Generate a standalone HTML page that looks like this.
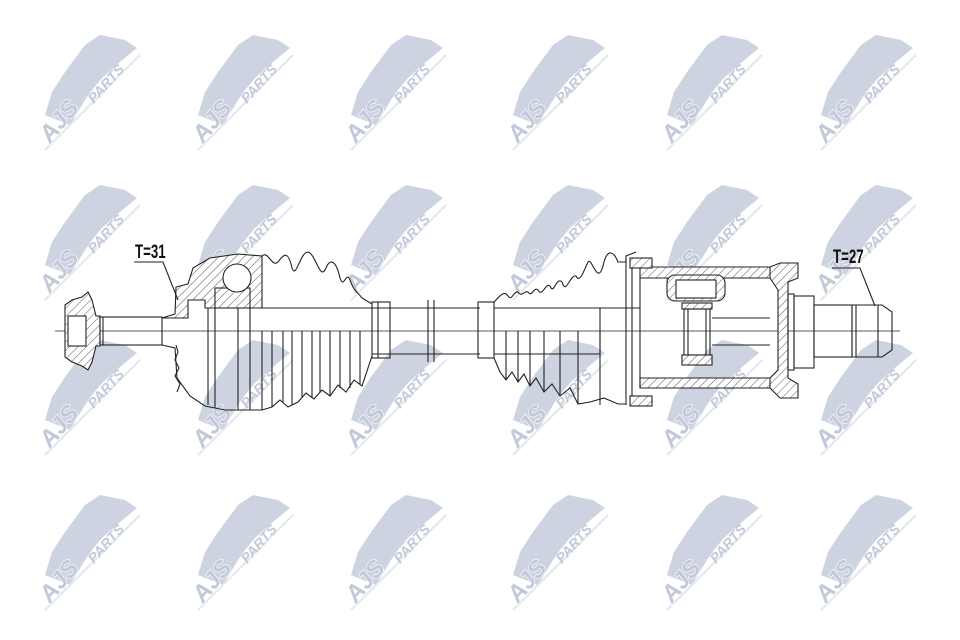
<!DOCTYPE html>
<html><head><meta charset="utf-8"><style>
html,body{margin:0;padding:0;background:#fff;}
svg{display:block}
</style></head><body>
<svg width="960" height="640" viewBox="0 0 960 640" xmlns="http://www.w3.org/2000/svg">
<defs>
<pattern id="h" width="6" height="6" patternUnits="userSpaceOnUse" patternTransform="rotate(45)">
<rect width="6" height="6" fill="#fff"/><line x1="0" y1="0" x2="0" y2="6" stroke="#333" stroke-width="0.8"/>
</pattern>
<g id="wm">
<path d="M-45,25 L-38,2 L-25,-18 L-5,-45 L10,-55 L35,-50 L47,-42 L30,-28 L12,-12 L2,0 L-5,10 L-20,35 Z" fill="#cdd3e0"/>
<line x1="-45" y1="60" x2="50" y2="-35" stroke="#e3e7ee" stroke-width="2"/>
<text x="0" y="0" transform="translate(-40,54) rotate(-50)" font-family="Liberation Sans, sans-serif" font-weight="bold" font-style="italic" font-size="24" fill="#c2c9d9" stroke="#fff" stroke-width="1.2" paint-order="stroke">AJS</text>
<text x="0" y="0" transform="translate(4,14) rotate(-48)" font-family="Liberation Sans, sans-serif" font-weight="bold" font-style="italic" font-size="14" fill="#c2c9d9">PARTS</text>
</g>
</defs>
<rect width="960" height="640" fill="#fff"/>
<g>
<use href="#wm" x="90" y="90"/><use href="#wm" x="243" y="90"/><use href="#wm" x="396" y="90"/><use href="#wm" x="558" y="90"/><use href="#wm" x="712" y="90"/><use href="#wm" x="866" y="90"/>
<use href="#wm" x="90" y="240"/><use href="#wm" x="243" y="240"/><use href="#wm" x="396" y="240"/><use href="#wm" x="558" y="240"/><use href="#wm" x="712" y="240"/><use href="#wm" x="866" y="240"/>
<use href="#wm" x="90" y="395"/><use href="#wm" x="243" y="395"/><use href="#wm" x="396" y="395"/><use href="#wm" x="558" y="395"/><use href="#wm" x="712" y="395"/><use href="#wm" x="866" y="395"/>
<use href="#wm" x="90" y="550"/><use href="#wm" x="243" y="550"/><use href="#wm" x="396" y="550"/><use href="#wm" x="558" y="550"/><use href="#wm" x="712" y="550"/><use href="#wm" x="866" y="550"/>
</g>

<g fill="none" stroke="#222" stroke-width="1.1">
<line x1="55" y1="331" x2="900" y2="331" stroke-width="0.8"/>
<path d="M65,305 L72,300 L82,297 L88,292 L92,300 L96,316 L100,316 L100,346 L96,346 L92,362 L88,370 L82,366 L72,362 L65,357 Z" fill="url(#h)"/>
<rect x="68" y="316" width="18" height="30" fill="#fff"/>
<rect x="100" y="317" width="62" height="28"/>
<line x1="103" y1="317" x2="103" y2="345"/>
<path d="M162,318 L175,314 L176,287 L188,284 L193,268 L210,258 L238,254 L262,256 L262,308 L205,308 L205,300 L188,300 L188,318 Z" fill="url(#h)"/>
<rect x="215" y="288" width="35" height="20" fill="url(#h)"/>
<circle cx="237" cy="278" r="14" fill="#fff"/>
<path d="M162,345 L175,348 L177,378 L190,396 L205,406 L225,410 L262,410"/>
<path d="M176,345 L178,352 L175,360 L179,368 L175,376 L180,384 L177,392" />
<line x1="208" y1="308" x2="208" y2="405"/><line x1="215" y1="308" x2="215" y2="408"/>
<line x1="250" y1="308" x2="250" y2="410"/><line x1="238" y1="308" x2="238" y2="410"/>
<path d="M262,256 C268,250 272,268 278,262 C284,254 288,250 292,268 C296,280 300,252 308,252 C316,254 320,282 326,268 C330,258 336,260 340,278 C344,290 346,270 350,280 C354,292 358,292 362,298 L372,304"/>
<path d="M262,410 L272,407 L280,400 L288,407 L298,402 L306,393 L314,399 L322,390 L330,396 L338,385 L346,392 L354,380 L362,386 L372,356"/>
<line x1="262" y1="331" x2="262" y2="410"/><line x1="272" y1="331" x2="272" y2="407"/><line x1="283" y1="331" x2="283" y2="402"/>
<line x1="292" y1="331" x2="292" y2="405"/><line x1="302" y1="331" x2="302" y2="398"/><line x1="312" y1="331" x2="312" y2="398"/>
<line x1="320" y1="331" x2="320" y2="392"/><line x1="330" y1="331" x2="330" y2="396"/><line x1="340" y1="331" x2="340" y2="388"/>
<line x1="350" y1="331" x2="350" y2="388"/><line x1="360" y1="331" x2="360" y2="384"/>
<line x1="262" y1="308" x2="372" y2="308"/>
<line x1="372" y1="308" x2="480" y2="308"/><line x1="372" y1="354" x2="480" y2="354"/>
<rect x="372" y="302" width="18" height="56"/><line x1="378" y1="302" x2="378" y2="358"/>
<line x1="428" y1="300" x2="428" y2="362"/><line x1="434" y1="300" x2="434" y2="362"/>
<rect x="478" y="302" width="16" height="56"/>
<line x1="494" y1="308" x2="640" y2="308"/><line x1="494" y1="354" x2="600" y2="354"/>
<line x1="600" y1="308" x2="600" y2="354"/>
<path d="M494,302 C500,296 504,290 508,296 C512,302 514,290 518,292 C522,298 524,290 528,292 C532,298 534,286 538,290 C542,298 546,282 550,286 C554,296 556,276 562,282 C566,296 570,274 576,276 C580,284 584,270 588,262 C592,256 598,290 604,262 C608,248 614,252 618,262 L626,262 L626,256 L636,252"/>
<path d="M494,358 L500,372 L506,380 L512,372 L518,382 L524,374 L530,386 L536,378 L544,392 L552,384 L560,396 L570,388 L578,404 L590,402 L604,398 L618,404 L626,404"/>
<line x1="506" y1="331" x2="506" y2="380"/><line x1="518" y1="331" x2="518" y2="382"/><line x1="530" y1="331" x2="530" y2="386"/>
<line x1="544" y1="331" x2="544" y2="392"/><line x1="560" y1="331" x2="560" y2="396"/><line x1="578" y1="331" x2="578" y2="404"/>
<line x1="600" y1="331" x2="600" y2="405"/>
<line x1="626" y1="258" x2="626" y2="405"/><line x1="632" y1="262" x2="632" y2="400"/>
<path d="M640,267 L770,267 L778,278 L770,278 L640,278 Z" fill="url(#h)"/>
<path d="M640,378 L770,378 L778,388 L640,388 Z" fill="url(#h)"/>
<path d="M770,267 L780,263 L798,263 L798,278 L788,282 L788,378 L798,384 L798,398 L780,398 L770,388 L770,378 L778,370 L778,290 L770,278 Z" fill="url(#h)"/>
<line x1="640" y1="278" x2="640" y2="388"/>
<rect x="630" y="258" width="22" height="10" fill="url(#h)"/>
<rect x="630" y="396" width="22" height="10" fill="url(#h)"/>
<rect x="667" y="275" width="58" height="26" rx="8" fill="url(#h)"/>
<rect x="676" y="280" width="40" height="18" fill="#fff"/>
<rect x="682" y="303" width="30" height="6" fill="url(#h)"/>
<rect x="684" y="309" width="26" height="46"/>
<line x1="688" y1="309" x2="688" y2="355"/><line x1="706" y1="309" x2="706" y2="355"/>
<rect x="682" y="355" width="30" height="10" fill="url(#h)"/>
<line x1="712" y1="318" x2="770" y2="318"/><line x1="712" y1="345" x2="770" y2="345"/>
<rect x="788" y="294" width="6" height="76"/>
<rect x="794" y="296" width="20" height="72"/>
<rect x="814" y="305" width="38" height="52"/>
<path d="M852,305 L882,305 L892,312 L892,350 L882,357 L852,357 Z"/>
<line x1="856" y1="305" x2="856" y2="357"/><line x1="878" y1="305" x2="878" y2="357"/>
<polyline points="134,262 163,262 178,300"/>
<polyline points="832,268 860,268 875,306"/>
</g>
<text x="135" y="258" font-family="Liberation Sans, sans-serif" font-size="19" font-weight="bold" fill="#111" transform="translate(135,0) scale(0.7,1) translate(-135,0)">T=31</text>
<text x="833" y="263" font-family="Liberation Sans, sans-serif" font-size="19" font-weight="bold" fill="#111" transform="translate(833,0) scale(0.7,1) translate(-833,0)">T=27</text>
</svg>
</body></html>
